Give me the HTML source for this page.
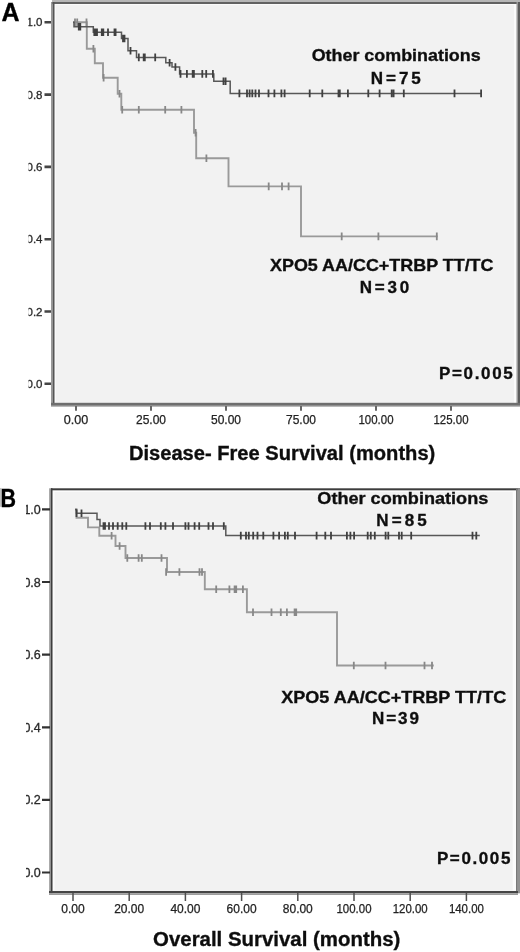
<!DOCTYPE html>
<html><head><meta charset="utf-8"><style>
html,body{margin:0;padding:0;background:#fff;}
svg{display:block;}
text{font-family:"Liberation Sans", sans-serif;white-space:pre;}
.bt{font-weight:bold;fill:#111;stroke:#111;stroke-width:0.35px;}
.tl{font-size:11.5px;fill:#2a2a2a;stroke:#2a2a2a;stroke-width:0.3px;}
.tlb{font-size:12.5px;fill:#2a2a2a;stroke:#2a2a2a;stroke-width:0.3px;}
.xl{font-size:12.3px;fill:#222;stroke:#222;stroke-width:0.25px;}
</style></head><body>
<svg width="520" height="952" viewBox="0 0 520 952">
<defs>
<clipPath id="ylc"><rect x="28.5" y="0" width="20" height="480"/></clipPath>
<clipPath id="ylcb"><rect x="26" y="480" width="20" height="472"/></clipPath>
<filter id="bl" x="-5%" y="-5%" width="110%" height="110%"><feGaussianBlur stdDeviation="0.6"/></filter>
</defs>
<rect width="520" height="952" fill="#fff"/>
<g filter="url(#bl)">
<!-- Panel A frame -->
<rect x="52" y="0" width="468" height="2" fill="#b6b6b6"/>
<rect x="53" y="4" width="465" height="400" fill="#f2f2f2"/>
<rect x="54.5" y="4" width="462" height="1.2" fill="#fbfbfb"/>
<rect x="54.5" y="4" width="1.3" height="399" fill="#fbfbfb"/>
<rect x="514" y="4" width="2.5" height="399" fill="#fbfbfb"/>
<rect x="52" y="2" width="468" height="2" fill="#626262"/>
<rect x="516.5" y="2" width="1.5" height="404" fill="#9a9a9a"/>
<rect x="518" y="2" width="2" height="404" fill="#5c5c5c"/>
<rect x="51" y="2" width="1.6" height="404" fill="#9a9a9a"/>
<rect x="52.6" y="2" width="1.9" height="404" fill="#555"/>
<rect x="51" y="402.8" width="469" height="2.2" fill="#6e6e6e"/>
<rect x="51" y="405" width="469" height="1.6" fill="#8e8e8e"/>
<path d="M44.5 22.3H51M44.5 94.6H51M44.5 166.9H51M44.5 239.2H51M44.5 311.5H51M44.5 383.8H51" stroke="#444" stroke-width="2.6" fill="none"/>
<path d="M76.0 406V410.8M151.0 406V410.8M226.0 406V410.8M301.0 406V410.8M376.0 406V410.8M451.0 406V410.8" stroke="#666" stroke-width="2" fill="none"/>
<g clip-path="url(#ylc)"><text x="42.5" y="26.3" text-anchor="end" class="tl">1.0</text><text x="42.5" y="98.6" text-anchor="end" class="tl">0.8</text><text x="42.5" y="170.9" text-anchor="end" class="tl">0.6</text><text x="42.5" y="243.2" text-anchor="end" class="tl">0.4</text><text x="42.5" y="315.5" text-anchor="end" class="tl">0.2</text><text x="42.5" y="387.8" text-anchor="end" class="tl">0.0</text></g>
<text x="63.8" y="424.2" textLength="24.5" lengthAdjust="spacingAndGlyphs" class="xl">0.00</text><text x="136.0" y="424.2" textLength="30" lengthAdjust="spacingAndGlyphs" class="xl">25.00</text><text x="211.0" y="424.2" textLength="30" lengthAdjust="spacingAndGlyphs" class="xl">50.00</text><text x="286.0" y="424.2" textLength="30" lengthAdjust="spacingAndGlyphs" class="xl">75.00</text><text x="358.5" y="424.2" textLength="35" lengthAdjust="spacingAndGlyphs" class="xl">100.00</text><text x="433.5" y="424.2" textLength="35" lengthAdjust="spacingAndGlyphs" class="xl">125.00</text>
<!-- curves A -->
<path d="M73 22.3 H86.8 V48.8 H94.8 V63.3 H103 V77.7 H117.7 V93.8 H121.3 V109.8 H194 V132.7 H196.2 V158.3 H228.5 V186.4 H301 V236.4 H437.7" stroke="#9a9a9a" stroke-width="1.9" fill="none"/>
<path d="M75 18.5V26.1M77.2 18.5V26.1M86.5 18.5V26.1M93.4 45.0V52.6M103.6 73.9V81.5M119.5 90.0V97.6M122.2 106.0V113.6M138.8 106.0V113.6M165.2 106.0V113.6M181.4 106.0V113.6M195.6 128.9V136.5M206.4 154.5V162.1M268.7 182.6V190.2M282 182.6V190.2M288.6 182.6V190.2M341.7 232.6V240.2M378.4 232.6V240.2M436.8 232.6V240.2" stroke="#888" stroke-width="1.8" fill="none"/>
<path d="M73 22.3 H74 V26.7 H93.3 V32.2 H121.5 V38.5 H128 V50.8 H136.5 V57.4 H165.8 V62.8 H172 V67 H179.6 V73.9 H213.8 V81.3 H230.2 V93.4 H481.5" stroke="#585858" stroke-width="1.5" fill="none"/>
<path d="M78.8 22.9V30.5M80.3 22.9V30.5M94.3 28.4V36.0M95.6 28.4V36.0M97 28.4V36.0M101.8 28.4V36.0M103.3 28.4V36.0M108 28.4V36.0M114.5 28.4V36.0M115.6 28.4V36.0M123 34.7V42.3M124.5 34.7V42.3M130.5 47.0V54.6M138.8 53.6V61.2M143.7 53.6V61.2M144.8 53.6V61.2M155.2 53.6V61.2M169.6 59.0V66.6M175.4 63.2V70.8M180.5 70.1V77.7M186.9 70.1V77.7M192.7 70.1V77.7M193.9 70.1V77.7M202.3 70.1V77.7M206.2 70.1V77.7M212.9 70.1V77.7M223.5 77.5V85.1M225.6 77.5V85.1M239.4 89.6V97.2M247 89.6V97.2M249.6 89.6V97.2M252.3 89.6V97.2M255.5 89.6V97.2M259 89.6V97.2M268.5 89.6V97.2M274.4 89.6V97.2M281.4 89.6V97.2M284.6 89.6V97.2M309.7 89.6V97.2M322.3 89.6V97.2M338.5 89.6V97.2M339.8 89.6V97.2M347.9 89.6V97.2M368.3 89.6V97.2M379.6 89.6V97.2M391.7 89.6V97.2M393.6 89.6V97.2M403.8 89.6V97.2M454.5 89.6V97.2M481.1 89.6V97.2" stroke="#404040" stroke-width="1.8" fill="none"/>

<!-- Panel B frame -->
<rect x="51" y="490" width="467" height="402" fill="#f2f2f2"/>
<rect x="53" y="490.5" width="462" height="1.5" fill="#fbfbfb"/>
<rect x="53" y="490.5" width="1.5" height="400" fill="#fbfbfb"/>
<rect x="512.7" y="490.5" width="3.3" height="400" fill="#fcfcfc"/>
<rect x="51" y="488.3" width="469" height="2" fill="#3e3e3e"/>
<rect x="516" y="488.3" width="1.8" height="405" fill="#7a7a7a"/>
<rect x="517.8" y="488.3" width="2.2" height="405" fill="#939393"/>
<rect x="49" y="488.3" width="1.6" height="405" fill="#aaa"/>
<rect x="50.6" y="488.3" width="1.9" height="405" fill="#3c3c3c"/>
<rect x="49" y="891" width="469" height="2.2" fill="#444"/>
<rect x="49" y="893.2" width="469" height="1.8" fill="#9d9d9d"/>
<path d="M42 509.4H50M42 582.0H50M42 654.6H50M42 727.3H50M42 799.9H50M42 872.5H50" stroke="#333" stroke-width="2.2" fill="none"/>
<path d="M73.0 893V901M129.2 893V901M185.4 893V901M241.6 893V901M297.8 893V901M354.0 893V901M410.2 893V901M466.4 893V901" stroke="#505050" stroke-width="1.5" fill="none"/>
<g clip-path="url(#ylcb)"><text x="40.8" y="513.9" text-anchor="end" class="tlb">1.0</text><text x="40.8" y="586.5" text-anchor="end" class="tlb">0.8</text><text x="40.8" y="659.1" text-anchor="end" class="tlb">0.6</text><text x="40.8" y="731.8" text-anchor="end" class="tlb">0.4</text><text x="40.8" y="804.4" text-anchor="end" class="tlb">0.2</text><text x="40.8" y="877.0" text-anchor="end" class="tlb">0.0</text></g>
<text x="61.2" y="912.8" textLength="23.5" lengthAdjust="spacingAndGlyphs" class="xl">0.00</text><text x="114.2" y="912.8" textLength="30" lengthAdjust="spacingAndGlyphs" class="xl">20.00</text><text x="170.4" y="912.8" textLength="30" lengthAdjust="spacingAndGlyphs" class="xl">40.00</text><text x="226.6" y="912.8" textLength="30" lengthAdjust="spacingAndGlyphs" class="xl">60.00</text><text x="282.8" y="912.8" textLength="30" lengthAdjust="spacingAndGlyphs" class="xl">80.00</text><text x="336.5" y="912.8" textLength="35" lengthAdjust="spacingAndGlyphs" class="xl">100.00</text><text x="392.7" y="912.8" textLength="35" lengthAdjust="spacingAndGlyphs" class="xl">120.00</text><text x="448.9" y="912.8" textLength="35" lengthAdjust="spacingAndGlyphs" class="xl">140.00</text>
<path d="M75 509.4 H76.5 V517.8 H88 V527.4 H99.3 V535.7 H115.5 V546 H125.5 V558 H167 V572 H204.8 V589.2 H246.9 V612.3 H337 V665.5 H433.8" stroke="#9a9a9a" stroke-width="1.9" fill="none"/>
<path d="M111.6 531.9V539.5M119.6 542.2V549.8M127.3 554.2V561.8M138.6 554.2V561.8M141.8 554.2V561.8M161.5 554.2V561.8M166.1 568.2V575.8M179.4 568.2V575.8M199.5 568.2V575.8M202 568.2V575.8M216.2 585.4V593.0M229.4 585.4V593.0M234.6 585.4V593.0M236.2 585.4V593.0M242.9 585.4V593.0M253 608.5V616.1M271.5 608.5V616.1M280.8 608.5V616.1M286.9 608.5V616.1M294.6 608.5V616.1M296.2 608.5V616.1M353.8 661.7V669.3M385.5 661.7V669.3M424.5 661.7V669.3M432 661.7V669.3" stroke="#888" stroke-width="1.8" fill="none"/>
<path d="M75 509.4 H76.5 V513.3 H97 V519.5 H100 V526 H225.8 V535.6 H479.8" stroke="#585858" stroke-width="1.5" fill="none"/>
<path d="M76.5 509.5V517.1M81.5 509.5V517.1M103.5 522.2V529.8M105 522.2V529.8M109 522.2V529.8M113 522.2V529.8M117.7 522.2V529.8M122.3 522.2V529.8M126.3 522.2V529.8M145.4 522.2V529.8M150 522.2V529.8M160.8 522.2V529.8M165.4 522.2V529.8M173 522.2V529.8M185.4 522.2V529.8M188.5 522.2V529.8M194.6 522.2V529.8M199.2 522.2V529.8M208.5 522.2V529.8M213 522.2V529.8M223.8 522.2V529.8M240.8 531.8V539.4M246 531.8V539.4M248.8 531.8V539.4M253.2 531.8V539.4M257.5 531.8V539.4M263.3 531.8V539.4M273.4 531.8V539.4M279.1 531.8V539.4M284.9 531.8V539.4M287.8 531.8V539.4M295 531.8V539.4M316.6 531.8V539.4M325.3 531.8V539.4M331 531.8V539.4M346.9 531.8V539.4M350.4 531.8V539.4M354.1 531.8V539.4M367.7 531.8V539.4M370.8 531.8V539.4M374.8 531.8V539.4M385.6 531.8V539.4M388.3 531.8V539.4M399 531.8V539.4M401.7 531.8V539.4M411.2 531.8V539.4M472.5 531.8V539.4M476.3 531.8V539.4" stroke="#404040" stroke-width="1.8" fill="none"/>

<!-- Texts -->
<rect x="0" y="488" width="1.6" height="18.8" fill="#c2c2c2"/>
<text x="1.5" y="21" class="bt" style="font-size:25px;fill:#000">A</text>
<text x="0" y="0" class="bt" transform="translate(0.6 507.2) scale(0.86 1.05)" style="font-size:25px;fill:#000">B</text>
<text x="311.7" y="61.2" textLength="169" lengthAdjust="spacingAndGlyphs" class="bt" style="font-size:17px">Other combinations</text>
<text x="370.8" y="83.5" textLength="50" lengthAdjust="spacing" class="bt" style="font-size:17px">N=75</text>
<text x="270" y="271.2" textLength="223.5" lengthAdjust="spacingAndGlyphs" class="bt" style="font-size:17px">XPO5 AA/CC+TRBP TT/TC</text>
<text x="359.7" y="293.2" textLength="49.5" lengthAdjust="spacing" class="bt" style="font-size:17px">N=30</text>
<text x="439" y="379.3" textLength="73.7" lengthAdjust="spacing" class="bt" style="font-size:17px">P=0.005</text>
<text x="128.9" y="459.6" textLength="306.4" lengthAdjust="spacingAndGlyphs" class="bt" style="font-size:20px">Disease- Free Survival (months)</text>
<text x="317.3" y="503.5" textLength="171" lengthAdjust="spacingAndGlyphs" class="bt" style="font-size:17px">Other combinations</text>
<text x="376.3" y="526.2" textLength="50.5" lengthAdjust="spacing" class="bt" style="font-size:17px">N=85</text>
<text x="281.2" y="703.2" textLength="225" lengthAdjust="spacingAndGlyphs" class="bt" style="font-size:17px">XPO5 AA/CC+TRBP TT/TC</text>
<text x="371.9" y="723.7" textLength="47" lengthAdjust="spacing" class="bt" style="font-size:17px">N=39</text>
<text x="436.9" y="863.7" textLength="73.5" lengthAdjust="spacing" class="bt" style="font-size:17px">P=0.005</text>
<text x="153.1" y="946" textLength="247.2" lengthAdjust="spacingAndGlyphs" class="bt" style="font-size:20px">Overall Survival (months)</text>
</g>
</svg>
</body></html>
